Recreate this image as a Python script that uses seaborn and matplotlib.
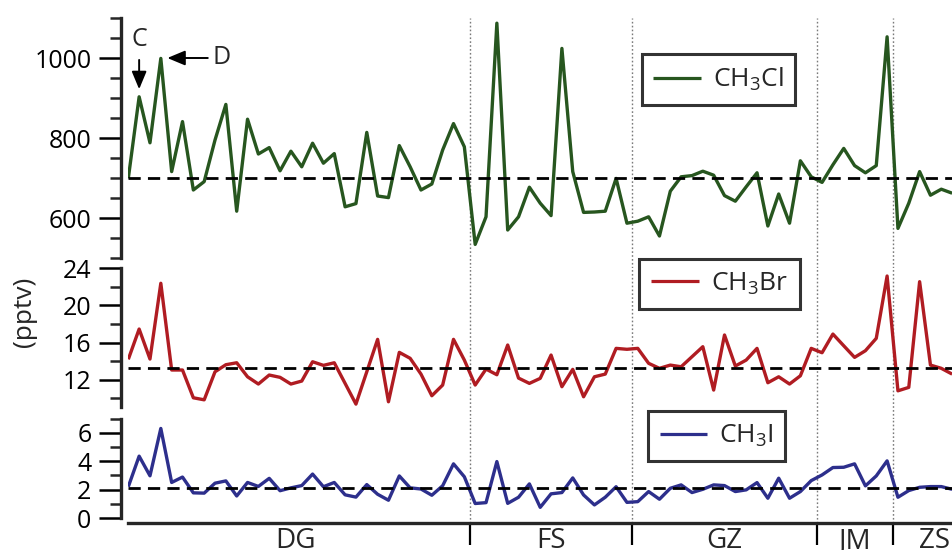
import numpy as np
import pandas as pd
import matplotlib
matplotlib.use("Agg")
import matplotlib.pyplot as plt
import matplotlib.transforms as mtransforms
import seaborn as sns

# ---------------------------------------------------------
# Data, one value per sample
# ---------------------------------------------------------
ch3cl = [699, 903, 788, 999, 716, 841, 670, 691, 795, 884, 617, 847, 760, 776, 718, 767,
         728, 787, 737, 761, 628, 636, 814, 655, 651, 781, 728, 670, 685, 770, 836, 778,
         534, 603, 1087, 570, 603, 677, 637, 606, 1024, 716, 614, 615, 617, 699, 587,
         592, 603, 555, 667, 703, 706, 717, 707, 656, 642, 678, 713, 580, 660, 587, 743, 703,
         689, 733, 774, 731, 713, 731, 1053,
         574, 637, 716, 657, 672, 662]
ch3br = [14.20, 17.46, 14.23, 22.39, 13.05, 13.05, 10.06, 9.84, 12.86, 13.62, 13.83, 12.32,
         11.54, 12.51, 12.26, 11.54, 11.86, 13.94, 13.55, 13.83, 11.61, 9.38, 12.86, 16.35,
         9.63, 14.95, 14.31, 12.61, 10.28, 11.43, 16.35, 14.12,
         11.43, 13.15, 12.54, 15.74, 12.18, 11.61, 12.15, 14.66, 11.25, 13.12, 10.17, 12.32,
         12.61, 15.38, 15.28,
         15.38, 13.77, 13.23, 13.58, 13.40, 14.48, 15.56, 10.89, 16.82, 13.48, 14.12, 15.38,
         11.68, 12.32, 11.54, 12.43, 15.38,
         14.91, 16.92, 15.66, 14.41, 15.13, 16.46, 23.17,
         10.81, 11.18, 22.56, 13.58, 13.23, 12.61]
ch3i = [2.20, 4.35, 2.97, 6.30, 2.50, 2.88, 1.77, 1.75, 2.45, 2.61, 1.55, 2.50, 2.22, 2.79,
        1.92, 2.12, 2.28, 3.09, 2.20, 2.50, 1.63, 1.47, 2.35, 1.67, 1.25, 2.96, 2.12, 2.04,
        1.60, 2.27, 3.81, 2.90,
        1.02, 1.08, 3.97, 1.03, 1.46, 2.40, 0.75, 1.70, 1.79, 2.82, 1.62, 0.92, 1.46, 2.20, 1.10,
        1.15, 1.86, 1.32, 2.09, 2.33, 1.79, 2.02, 2.33, 2.28, 1.86, 1.98, 2.49, 1.39, 2.80,
        1.39, 1.86, 2.63,
        3.03, 3.55, 3.57, 3.81, 2.26, 2.96, 4.02,
        1.46, 1.93, 2.16, 2.21, 2.21, 2.02]

sites = ["DG", "FS", "GZ", "JM", "ZS"]
site_edges = [31.5, 46.5, 63.5, 70.5]     # sample index where each site ends
mean_lines = {"CH3Cl": 700, "CH3Br": 13.3, "CH3I": 2.1}

df = pd.DataFrame({"sample": np.arange(len(ch3cl)), "CH3Cl": ch3cl,
                   "CH3Br": ch3br, "CH3I": ch3i})

# ---------------------------------------------------------
# Style
# ---------------------------------------------------------
sns.set_style("ticks")
plt.rcParams["font.family"] = ["Open Sans", "DejaVu Sans"]
plt.rcParams["mathtext.default"] = "regular"
plt.rcParams["axes.linewidth"] = 2.4
plt.rcParams["lines.solid_capstyle"] = "butt"

W, H = 952, 550
fig = plt.figure(figsize=(W / 100, H / 100), dpi=100)

X_END = 78.3
left = 128.3 / W
width = (X_END * 10.84) / W


def make_ax(top_px, bottom_px):
    return fig.add_axes([left, 1 - bottom_px / H, width, (bottom_px - top_px) / H])


ax_cl = make_ax(18, 258)
ax_br = make_ax(268.3, 406.7)
ax_i = make_ax(418.5, 518)

panels = [
    (ax_cl, "CH3Cl", "#27561f", (500, 1100), [600, 800, 1000], np.arange(500, 1101, 50),
     "CH$_3$Cl", (718.5, 79.5), 10 / 240),
    (ax_br, "CH3Br", "#b01c22", (9.1, 24), [12, 16, 20, 24], [10, 14, 18, 22],
     "CH$_3$Br", (719.5, 283.7), 12 / 138.4),
    (ax_i, "CH3I", "#2d2f8c", (0, 7), [0, 2, 4, 6], [1, 3, 5, 7],
     "CH$_3$I", (716.5, 436), 5 / 99.5),
]

for ax, col, color, ylim, major, minor, label, leg_xy, ext in panels:
    sns.lineplot(data=df, x="sample", y=col, ax=ax, color=color, lw=2.4, label=label)
    ax.axhline(mean_lines[col], color="black", lw=2.0, ls=(0, (4.4, 2.6)), zorder=3)
    for e in site_edges:
        ax.axvline(e, ymin=-ext, ymax=1, color="#7a7a7a", lw=1.0, ls=(0, (1.2, 1.6)),
                   clip_on=False, zorder=1)
    ax.set_xlim(0, X_END)
    ax.set_ylim(*ylim)
    ax.set_yticks(major)
    ax.set_yticks(minor, minor=True)
    ax.tick_params(axis="y", which="major", direction="out", length=15.5, width=1.8,
                   pad=6, labelsize=18, colors="black")
    ax.tick_params(axis="y", which="minor", direction="out", length=8, width=1.8)
    ax.spines["left"].set_position(("outward", 5))
    ax.spines["top"].set_visible(False)
    ax.spines["right"].set_visible(False)
    ax.set_xlabel("")
    ax.set_ylabel("")
    leg = ax.legend(loc="center", bbox_to_anchor=(leg_xy[0] / W, 1 - leg_xy[1] / H),
                    bbox_transform=fig.transFigure, fontsize=19, frameon=True,
                    fancybox=False, edgecolor="black", handlelength=1.8,
                    handletextpad=0.45, borderpad=0.45, borderaxespad=0)
    leg.get_frame().set_linewidth(2.2)
    for h in leg.get_lines():
        h.set_linewidth(2.3)

for ax in (ax_cl, ax_br):
    ax.spines["bottom"].set_visible(False)
    ax.tick_params(axis="x", which="both", bottom=False, labelbottom=False)

# site axis on the lowest panel
ax_i.spines["bottom"].set_position(("outward", 3.6))
ax_i.set_xticks(site_edges)
ax_i.set_xticklabels([])
ax_i.tick_params(axis="x", which="major", direction="out", length=16, width=1.6,
                 colors="black")
bounds = [-0.6] + site_edges + [X_END]
trans = mtransforms.blended_transform_factory(ax_i.transData, ax_i.transAxes)
for name, a, b in zip(sites, bounds[:-1], bounds[1:]):
    ax_i.text((a + b) / 2, -(548 - 518) / 99.5, name, transform=trans, ha="center",
              va="baseline", fontsize=20)

# annotations C and D
arrow = dict(arrowstyle="-|>,head_length=0.6,head_width=0.25", color="black", lw=1.4,
             shrinkB=0)
ax_cl.annotate("C", xy=(1, 922), xytext=(1, 1045), ha="center", va="center", fontsize=18,
               arrowprops=dict(arrow, shrinkA=3))
ax_cl.annotate("D", xy=(3.6, 1000), xytext=(8.6, 1000), ha="center", va="center",
               fontsize=18, arrowprops=dict(arrow, shrinkA=1))

fig.text(24 / W, 1 - 312 / H, "(pptv)", rotation=90, ha="center", va="center",
         fontsize=19)

fig.savefig("out.png", dpi=100)
